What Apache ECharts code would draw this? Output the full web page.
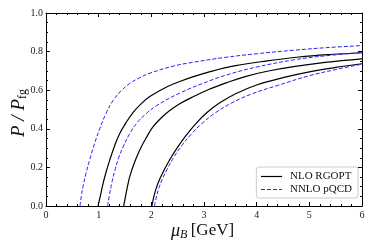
<!DOCTYPE html>
<html><head><meta charset="utf-8">
<script src="https://cdn.jsdelivr.net/npm/echarts@6/dist/echarts.min.js"></script>
<style>html,body{margin:0;padding:0;background:#fff}#c{width:374px;height:249px}</style>
</head><body><div id="c"></div>
<script>
// NLO RGOPT (black solid) curves: [mu_B, P/P_fg]
const rgopt1 = [[0.988,0],[1.03,0.05],[1.084,0.117],[1.14,0.175],[1.21,0.238],[1.30,0.31],[1.40,0.376],[1.52,0.432],[1.655,0.485],[1.8,0.528],[1.97,0.567],[2.29,0.617],[2.54,0.645],[2.8,0.67],[3.1,0.695],[3.6,0.727],[4.2,0.752],[4.8,0.772],[5.4,0.785],[6,0.794]];
const rgopt2 = [[1.475,0],[1.51,0.05],[1.55,0.105],[1.59,0.152],[1.68,0.225],[1.78,0.29],[1.9,0.352],[2.03,0.41],[2.2,0.46],[2.35,0.495],[2.54,0.53],[2.8,0.567],[3.1,0.605],[3.42,0.638],[3.8,0.672],[4.2,0.698],[4.7,0.722],[5.3,0.744],[6,0.762]];
const rgopt3 = [[2.01,0],[2.04,0.04],[2.09,0.09],[2.16,0.14],[2.25,0.19],[2.36,0.245],[2.5,0.305],[2.65,0.362],[2.85,0.428],[3.05,0.483],[3.3,0.535],[3.6,0.582],[4.0,0.627],[4.5,0.665],[5.0,0.695],[5.5,0.718],[6,0.737]];
// NNLO pQCD (blue dashed) curves
const pqcd1 = [[0.646,0],[0.67,0.05],[0.71,0.11],[0.76,0.17],[0.83,0.24],[0.92,0.322],[1.02,0.40],[1.14,0.48],[1.27,0.545],[1.42,0.595],[1.59,0.635],[1.78,0.665],[1.97,0.688],[2.42,0.725],[2.8,0.745],[3.4,0.77],[4.0,0.789],[4.7,0.807],[5.3,0.82],[6,0.831]];
const pqcd2 = [[1.17,0],[1.2,0.05],[1.25,0.12],[1.31,0.186],[1.38,0.25],[1.465,0.307],[1.58,0.37],[1.72,0.428],[1.9,0.478],[2.1,0.52],[2.54,0.585],[3.1,0.648],[3.5,0.685],[4.0,0.72],[4.7,0.757],[5.3,0.778],[6,0.795]];
const pqcd3 = [[2.06,0],[2.09,0.04],[2.14,0.09],[2.21,0.14],[2.3,0.19],[2.42,0.25],[2.57,0.31],[2.75,0.37],[2.95,0.425],[3.2,0.48],[3.5,0.53],[3.9,0.58],[4.4,0.625],[5.0,0.675],[5.5,0.707],[6,0.735]];
const seriesNames = ['NLO RGOPT','NNLO pQCD'];
const xTicks = [0,1,2,3,4,5,6];
const yTicks = ['0.0','0.2','0.4','0.6','0.8','1.0'];

const FONT = 'Liberation Serif';
const BLUE = '#2424ff';
const chart = echarts.init(document.getElementById('c'), null, {renderer:'canvas'});
function xAx(pos, show){
  return {type:'value', position:pos, min:0, max:6, interval:1,
    axisLine:{show:true, onZero:false, lineStyle:{color:'#000', width:1}},
    axisTick:{show:true, inside:true, length:4, lineStyle:{color:'#000'}},
    minorTick:{show:true, splitNumber:5, length:2, lineStyle:{color:'#000'}},
    splitLine:{show:false}, minorSplitLine:{show:false},
    axisLabel:{show:show, margin:4, fontFamily:FONT, fontSize:10, color:'#222',
      formatter:v=>String(xTicks[Math.round(v)])}};
}
function yAx(pos, show){
  return {type:'value', position:pos, min:0, max:1, interval:0.2,
    axisLine:{show:true, onZero:false, lineStyle:{color:'#000', width:1}},
    axisTick:{show:true, inside:true, length:4, lineStyle:{color:'#000'}},
    minorTick:{show:true, splitNumber:4, length:2, lineStyle:{color:'#000'}},
    splitLine:{show:false}, minorSplitLine:{show:false},
    axisLabel:{show:show, margin:3, fontFamily:FONT, fontSize:10, color:'#222',
      formatter:v=>yTicks[Math.round(v*5)]}};
}
function mk(name, data, solid){
  return {name:name, type:'line', data:data, showSymbol:false, symbol:'none',
    smooth:0.4, clip:true, z:solid?3:4,
    lineStyle: solid ? {color:'#000', width:1.2, type:'solid'} : {color:BLUE, width:1, type:[4,2]},
    itemStyle:{color: solid ? '#000' : BLUE}};
}
chart.setOption({
  animation:false,
  backgroundColor:'#fff',
  grid:{left:46, right:12, top:13, bottom:43, containLabel:false},
  xAxis:[xAx('bottom',true), xAx('top',false)],
  yAxis:[yAx('left',true), yAx('right',false)],
  legend:{orient:'vertical', right:16, top:167, padding:[4,6,3,4], itemGap:2,
    itemWidth:21, itemHeight:10, borderColor:'#ccc', borderWidth:1, borderRadius:3,
    backgroundColor:'#fff', data:seriesNames,
    itemStyle:{opacity:0},
    lineStyle:{width:1.2},
    textStyle:{fontFamily:FONT, fontSize:11, color:'#111', padding:[0,0,0,3]}},
  series:[
    mk(seriesNames[0], rgopt1, true), mk(seriesNames[0], rgopt2, true), mk(seriesNames[0], rgopt3, true),
    mk(seriesNames[1], pqcd1, false), mk(seriesNames[1], pqcd2, false), mk(seriesNames[1], pqcd3, false)
  ],
  graphic:[
    {type:'text', left:171, top:222, style:{
      text:'{m|μ}{s|B} {n|[GeV]}',
      rich:{m:{fontFamily:FONT, fontStyle:'italic', fontSize:18, fill:'#111'},
            s:{fontFamily:FONT, fontStyle:'italic', fontSize:12, fill:'#111', padding:[8,0,0,0]},
            n:{fontFamily:FONT, fontSize:17, fill:'#111'}}}},
    {type:'text', x:8, y:137, rotation:Math.PI/2, style:{
      text:'{m|P}{n| / }{m|P}{s|fg}',
      rich:{m:{fontFamily:FONT, fontStyle:'italic', fontSize:19, fill:'#111'},
            n:{fontFamily:FONT, fontStyle:'italic', fontSize:19, fill:'#111'},
            s:{fontFamily:FONT, fontSize:12, fill:'#111', padding:[9,0,0,0]}}}}
  ]
});
</script></body></html>
